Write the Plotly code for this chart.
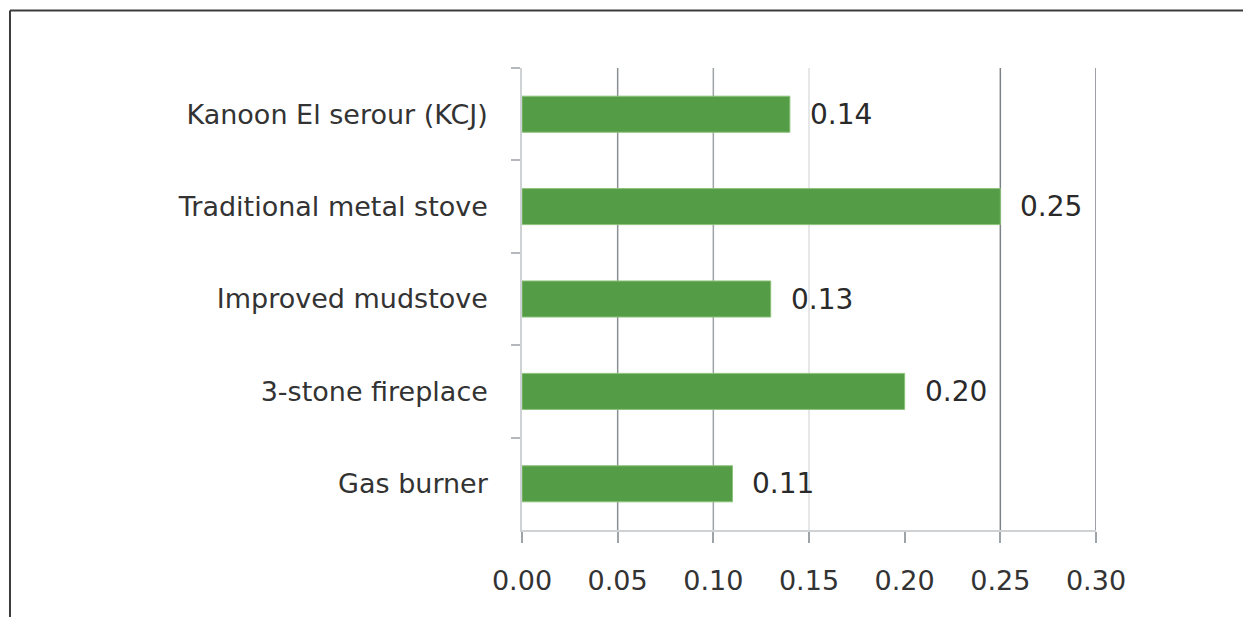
import plotly.graph_objects as go

# Stove types and their values
stoves = [
    "Kanoon El serour (KCJ)",
    "Traditional metal stove",
    "Improved mudstove",
    "3-stone fireplace",
    "Gas burner",
]
values = [0.14, 0.25, 0.13, 0.20, 0.11]

x_ticks = [0.00, 0.05, 0.10, 0.15, 0.20, 0.25, 0.30]
x_tick_text = ["0.00", "0.05", "0.10", "0.15", "0.20", "0.25", "0.30"]
# vertical gridline colours, one per tick (0.00 is covered by the axis line)
grid_colors = [None, "#8a8f94", "#9ea3a8", "#dcdfe2", None, "#7d8287", "#7d8287"]

FONT = "DejaVu Sans"
TEXT_COLOR = "#333333"
LABEL_SIZE = 27

fig = go.Figure()

fig.add_trace(go.Bar(
    x=values,
    y=stoves,
    orientation="h",
    width=0.39,
    marker=dict(color="#549c46", line=dict(color="#8cc27a", width=1)),
    hoverinfo="skip",
))

# value labels to the right of each bar
for s, v in zip(stoves, values):
    fig.add_annotation(
        x=v, y=s, xref="x", yref="y",
        text=f"{v:.2f}",
        showarrow=False,
        xanchor="left", yanchor="middle",
        xshift=18,
        font=dict(family=FONT, size=28, color="#2a2a2a"),
    )

shapes = []
for xv, col in zip(x_ticks, grid_colors):
    if col is None:
        continue
    shapes.append(dict(
        type="line", xref="x", yref="paper",
        x0=xv, x1=xv, y0=0, y1=1,
        line=dict(color=col, width=1.5),
        layer="below",
    ))

# frame lines along the top and left edges of the page
shapes.append(dict(
    type="line", xref="paper", yref="paper",
    x0=-0.892, x1=1.3, y0=1.1245, y1=1.1245,
    line=dict(color="#3c3c3c", width=2),
))
shapes.append(dict(
    type="line", xref="paper", yref="paper",
    x0=-0.892, x1=-0.892, y0=1.1245, y1=-0.2,
    line=dict(color="#3c3c3c", width=2),
))

fig.update_layout(
    width=1243,
    height=617,
    margin=dict(l=522, r=147, t=68, b=87),
    paper_bgcolor="white",
    plot_bgcolor="white",
    showlegend=False,
    shapes=shapes,
    font=dict(family=FONT, size=LABEL_SIZE, color=TEXT_COLOR),
)

fig.update_xaxes(
    range=[0, 0.30],
    tickmode="array",
    tickvals=x_ticks,
    ticktext=x_tick_text,
    showgrid=False,
    zeroline=False,
    showline=True,
    linecolor="#cfd2d5",
    linewidth=1.5,
    ticks="outside",
    ticklen=11,
    tickwidth=1.5,
    tickcolor="#9ea3a8",
    ticklabelstandoff=15,
    tickfont=dict(family=FONT, size=LABEL_SIZE, color=TEXT_COLOR),
)

fig.update_yaxes(
    categoryorder="array",
    categoryarray=stoves,
    autorange="reversed",
    showgrid=False,
    zeroline=False,
    showline=True,
    linecolor="#cfd2d5",
    linewidth=1.5,
    ticks="outside",
    tickson="boundaries",
    ticklen=9,
    tickwidth=1.5,
    tickcolor="#b5b9bd",
    ticklabelstandoff=27,
    tickfont=dict(family=FONT, size=LABEL_SIZE, color=TEXT_COLOR),
)

fig.write_html("out.html")
